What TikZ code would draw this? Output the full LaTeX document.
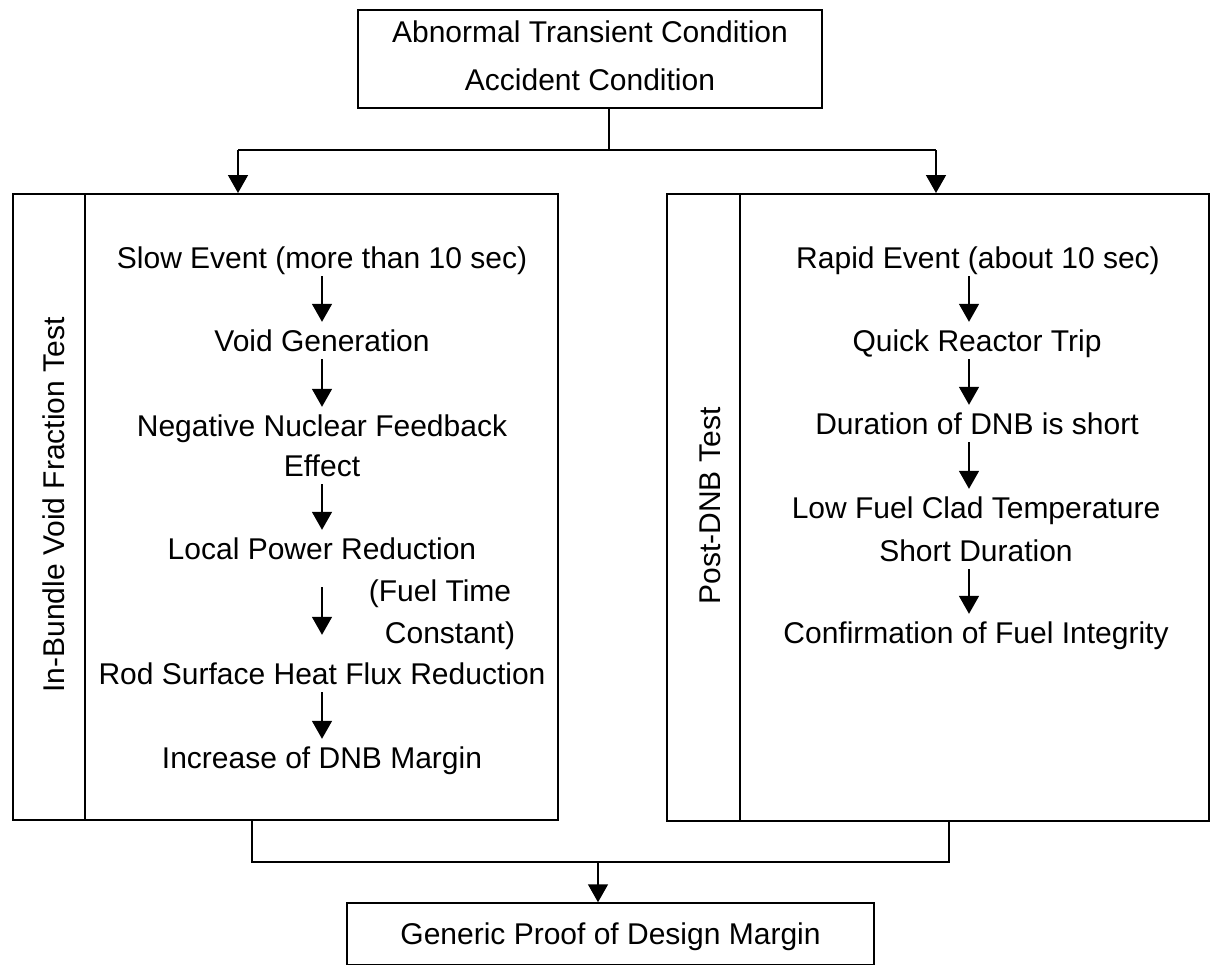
\documentclass[tikz,border=0pt]{standalone}
\usepackage{fontspec}
\setmainfont{Liberation Sans}
\usetikzlibrary{arrows.meta,calc}
\begin{document}
\begin{tikzpicture}[x=1pt,y=-1pt,
  every node/.style={font=\fontsize{30}{36}\selectfont},
  txt/.style={inner sep=0pt, text height=22pt, text depth=7pt, anchor=base},
  box/.style={draw, line width=1.5pt, inner sep=0pt},
  ln/.style={line width=1.5pt},
  arr/.style={line width=1.5pt, -{Triangle[width=20pt,length=18pt]}, shorten <=1pt, shorten >=7pt},
  arrtop/.style={line width=1.5pt, -{Triangle[width=20pt,length=18pt]}}]
\useasboundingbox (0,0) rectangle (1212,967);
\fill[white] (0,0) rectangle (1212,967);

% boxes
\node[box, minimum width=464pt, minimum height=98pt, align=center, text depth=6pt,
      font=\fontsize{30}{48}\selectfont] (top) at (590,59)
      {Abnormal Transient Condition\\Accident Condition};
\node[box, anchor=north west, minimum width=545pt, minimum height=626pt] (lbox) at (12,193) {};
\node[box, anchor=north west, minimum width=542pt, minimum height=627pt] (rbox) at (666,193) {};
\node[box, minimum width=527pt, minimum height=61.5pt, text height=21pt, text depth=0pt] (bot) at (610.5,933.75)
      {Generic Proof of Design Margin};

% dividers
\draw[ln] ($(lbox.north west)+(73,0)$) -- ($(lbox.south west)+(73,0)$);
\draw[ln] ($(rbox.north west)+(74,0)$) -- ($(rbox.south west)+(74,0)$);

% side labels
\node[rotate=90, inner sep=0pt] (lt) at (54,505) {In-Bundle Void Fraction Test};
\node[rotate=90, inner sep=0pt] (rt) at (710,506) {Post-DNB Test};

% top connectors
\coordinate (j) at (609,150);
\coordinate (hl) at (238,150);
\coordinate (hr) at (936,150);
\draw[ln] (j |- top.south) -- (j);
\draw[ln] (hl) -- (hr);
\draw[arrtop] (hl) -- (hl |- lbox.north);
\draw[arrtop] (hr) -- (hr |- rbox.north);

% bottom connectors
\coordinate (bl) at (252,862);
\coordinate (br) at (949,862);
\coordinate (bm) at (598,862);
\draw[ln] (bl |- lbox.south) -- (bl) -- (br) -- (br |- rbox.south);
\draw[arrtop] (bm) -- (bm |- bot.north);

% left column
\node[txt] (l1) at (322,268) {Slow Event (more than 10 sec)};
\node[txt] (l2) at (322,351) {Void Generation};
\node[txt] (l3) at (322,436) {Negative Nuclear Feedback};
\node[txt] (l4) at (322,476) {Effect};
\node[txt] (l5) at (322,559) {Local Power Reduction};
\node[txt] (l6) at (440,601) {(Fuel Time};
\node[txt] (l7) at (450,643) {Constant)};
\node[txt] (l8) at (322,684) {Rod Surface Heat Flux Reduction};
\node[txt] (l9) at (322,768) {Increase of DNB Margin};

\draw[arr] (l1.south) -- (l2.north);
\draw[arr] (l2.south) -- (l3.north);
\draw[arr] (l4.south) -- (l5.north);
\draw[arr, shorten <=21pt, shorten >=27pt] (l5.south) -- (l8.north);
\draw[arr] (l8.south) -- (l9.north);

% right column
\node[txt] (r1) at (978,268) {Rapid Event (about 10 sec)};
\node[txt] (r2) at (977,351) {Quick Reactor Trip};
\node[txt] (r3) at (977,434) {Duration of DNB is short};
\node[txt] (r4) at (976,518) {Low Fuel Clad Temperature};
\node[txt] (r5) at (976,561) {Short Duration};
\node[txt] (r6) at (976,643) {Confirmation of Fuel Integrity};

\coordinate (rc) at (969,0);
\draw[arr] (r1.south -| rc) -- (r2.north -| rc);
\draw[arr] (r2.south -| rc) -- (r3.north -| rc);
\draw[arr] (r3.south -| rc) -- (r4.north -| rc);
\draw[arr] (r5.south -| rc) -- (r6.north -| rc);
\end{tikzpicture}
\end{document}
